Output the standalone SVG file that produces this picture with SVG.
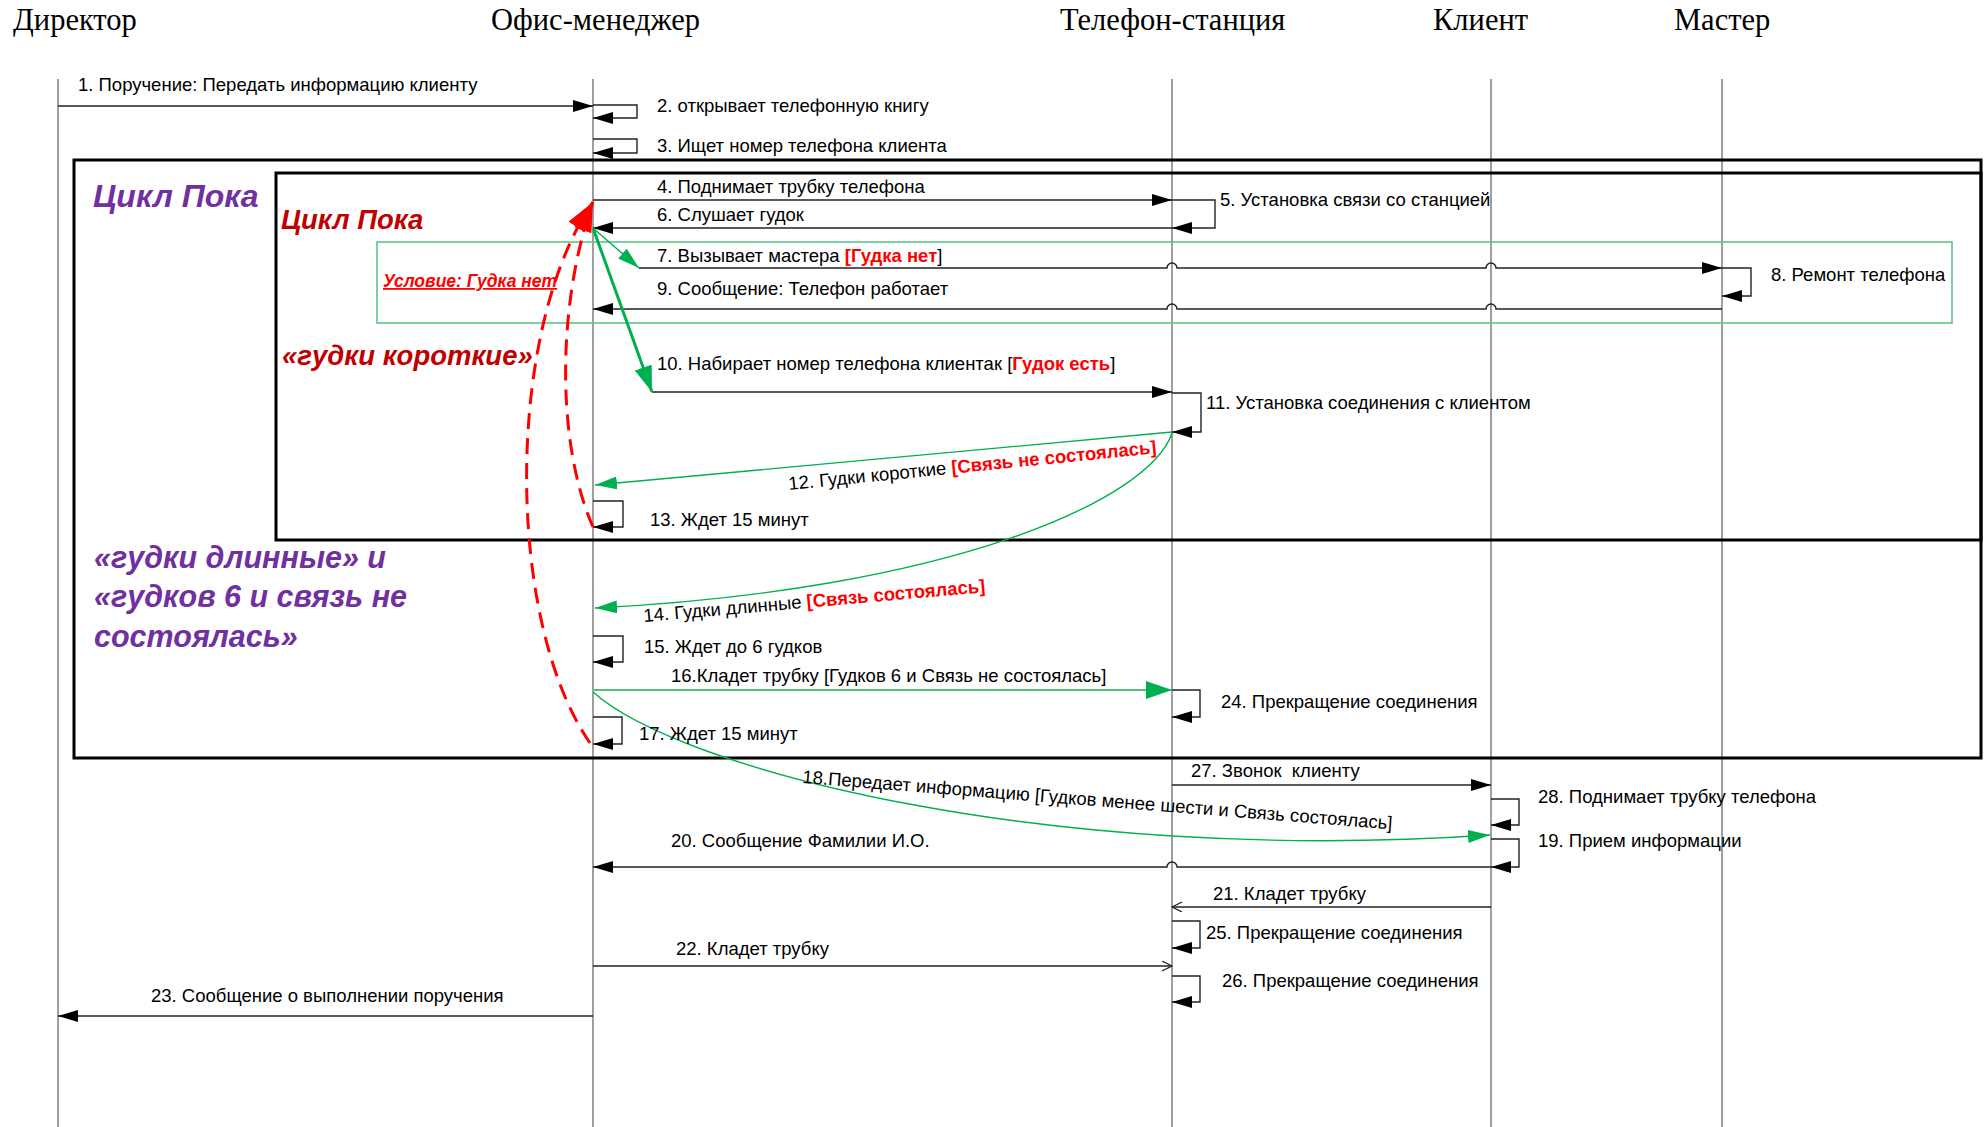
<svg xmlns="http://www.w3.org/2000/svg" width="1988" height="1127" viewBox="0 0 1988 1127">
  <style>
    .ll { stroke: #6b6b6b; stroke-width: 1.3; fill: none; }
    .frame { stroke: #000; stroke-width: 3; fill: none; }
    .cond { stroke: #5cc48a; stroke-width: 1.6; fill: none; }
    .msg { stroke: #222; stroke-width: 1.4; fill: none; }
    .g { stroke: #00b050; stroke-width: 1.4; fill: none; }
    .gk { stroke: #00b050; stroke-width: 3; fill: none; }
    .g16 { stroke: #52c27e; stroke-width: 2.2; fill: none; }
    .rd { stroke: #ff0000; stroke-width: 3; fill: none; stroke-dasharray: 16 9; }
    .hdr { font-family: "Liberation Serif", "Times New Roman", serif; font-size: 30.5px; fill: #000; }
    .lbl { font-family: "Liberation Sans", Arial, sans-serif; font-size: 18.5px; fill: #000; }
    .rb { fill: #ff0000; font-weight: bold; }
    .big { font-family: "Liberation Sans", Arial, sans-serif; font-weight: bold; font-style: italic; }
    .purple { fill: #7030a0; font-size: 32px; }
    .purple2 { fill: #7030a0; font-size: 30.5px; }
    .dred { fill: #c00000; font-size: 27.5px; }
  </style>
  <defs>
    <marker id="ah" markerUnits="userSpaceOnUse" markerWidth="22" markerHeight="14" refX="20" refY="6" orient="auto" viewBox="0 0 22 14">
      <path d="M0,0 L20,6 L0,12 z" fill="#000"/>
    </marker>
    <marker id="ao" markerUnits="userSpaceOnUse" markerWidth="12" markerHeight="12" refX="10" refY="5" orient="auto" viewBox="0 0 12 12">
      <path d="M0,0 L10,5 L0,10" fill="none" stroke="#222" stroke-width="1.2"/>
    </marker>
    <marker id="ag" markerUnits="userSpaceOnUse" markerWidth="24" markerHeight="14" refX="22" refY="6.5" orient="auto" viewBox="0 0 24 14">
      <path d="M0,0 L22,6.5 L0,13 z" fill="#00b050"/>
    </marker>
    <marker id="agL" markerUnits="userSpaceOnUse" markerWidth="28" markerHeight="20" refX="26" refY="9" orient="auto" viewBox="0 0 28 20">
      <path d="M0,0 L26,9 L0,18 z" fill="#00b050"/>
    </marker>
    <marker id="ar" markerUnits="userSpaceOnUse" markerWidth="32" markerHeight="20" refX="30" refY="9" orient="auto" viewBox="0 0 32 20">
      <path d="M0,0 L30,9 L0,18 z" fill="#ff0000"/>
    </marker>
  </defs>

  <rect width="1988" height="1127" fill="#fff"/>

  <!-- participants: header + lifeline -->
  <g id="director">
    <text class="hdr" x="13" y="30">Директор</text>
    <line class="ll" x1="58" y1="79" x2="58" y2="1127"/>
  </g>
  <g id="office-manager">
    <text class="hdr" x="491" y="30">Офис-менеджер</text>
    <line class="ll" x1="593" y1="79" x2="593" y2="1127"/>
  </g>
  <g id="phone-station">
    <text class="hdr" x="1060" y="30">Телефон-станция</text>
    <line class="ll" x1="1172" y1="79" x2="1172" y2="1127"/>
  </g>
  <g id="client">
    <text class="hdr" x="1433" y="30">Клиент</text>
    <line class="ll" x1="1491" y1="79" x2="1491" y2="1127"/>
  </g>
  <g id="master">
    <text class="hdr" x="1674" y="30">Мастер</text>
    <line class="ll" x1="1722" y1="79" x2="1722" y2="1127"/>
  </g>

  <!-- loop frames and condition box -->
  <g id="loop-outer">
    <rect class="frame" x="74" y="160" width="1907" height="598"/>
    <text class="big purple" x="93" y="207">Цикл Пока</text>
    <text class="big purple2" x="94" y="568">«гудки длинные» и</text>
    <text class="big purple2" x="94" y="607">«гудков 6 и связь не</text>
    <text class="big purple2" x="94" y="647">состоялась»</text>
  </g>
  <g id="loop-inner">
    <rect class="frame" x="276" y="173" width="1705" height="367"/>
    <text class="big dred" x="281" y="229">Цикл Пока</text>
    <text class="big dred" x="282" y="365">«гудки короткие»</text>
  </g>
  <g id="condition">
    <rect class="cond" x="377" y="242" width="1575" height="81"/>
    <text class="big" x="383" y="287" font-size="17.5" fill="#ff0000" text-decoration="underline">Условие: Гудка нет</text>
  </g>

  <!-- messages -->
  <g id="connectors">
    <path class="msg" d="M58,106 H593" marker-end="url(#ah)"/>
    <path class="msg" d="M593,105 H637 V118 H593" marker-end="url(#ah)"/>
    <path class="msg" d="M593,139 H637 V153 H593" marker-end="url(#ah)"/>
    <path class="msg" d="M593,200 H1172" marker-end="url(#ah)"/>
    <path class="msg" d="M1172,200 H1215 V228 H1172" marker-end="url(#ah)"/>
    <path class="msg" d="M1172,228 H593" marker-end="url(#ah)"/>
    <path class="msg" d="M639,268 H1167 A5,5 0 0 1 1177,268 H1486 A5,5 0 0 1 1496,268 H1722" marker-end="url(#ah)"/>
    <path class="msg" d="M1722,268 H1751 V296 H1722" marker-end="url(#ah)"/>
    <path class="msg" d="M1722,309 H1496 A5,5 0 0 0 1486,309 H1177 A5,5 0 0 0 1167,309 H593" marker-end="url(#ah)"/>
    <path class="msg" d="M652,392 H1172" marker-end="url(#ah)"/>
    <path class="msg" d="M1172,393 H1201 V432 H1172" marker-end="url(#ah)"/>
    <path class="msg" d="M593,501 H623 V527 H593" marker-end="url(#ah)"/>
    <path class="msg" d="M593,636 H623 V662 H593" marker-end="url(#ah)"/>
    <path class="msg" d="M593,717 H622 V744 H593" marker-end="url(#ah)"/>
    <path class="msg" d="M1172,690 H1200 V717 H1172" marker-end="url(#ah)"/>
    <path class="msg" d="M1172,785 H1491" marker-end="url(#ah)"/>
    <path class="msg" d="M1491,799 H1519 V825 H1491" marker-end="url(#ah)"/>
    <path class="msg" d="M1491,839 H1519 V867 H1491" marker-end="url(#ah)"/>
    <path class="msg" d="M1491,867 H1177 A5,5 0 0 0 1167,867 H593" marker-end="url(#ah)"/>
    <path class="msg" d="M1491,907 H1172" marker-end="url(#ao)"/>
    <path class="msg" d="M1172,921 H1200 V948 H1172" marker-end="url(#ah)"/>
    <path class="msg" d="M593,966 H1172" marker-end="url(#ao)"/>
    <path class="msg" d="M1172,976 H1200 V1002 H1172" marker-end="url(#ah)"/>
    <path class="msg" d="M593,1016 H58" marker-end="url(#ah)"/>

    <!-- branch arrows -->
    <path class="g" d="M593,228 L639,268" marker-end="url(#ag)"/>
    <path class="gk" d="M593,228 L652,392" marker-end="url(#agL)"/>
    <path class="g" d="M1172,432 L595,485" marker-end="url(#ag)"/>
    <path class="g" d="M1172,433 C1150,500 950,590 595,608" marker-end="url(#ag)"/>
    <path class="g16" d="M593,690 H1172" marker-end="url(#agL)"/>
    <path class="g" d="M593,692 C680,770 1050,865 1490,835" marker-end="url(#ag)"/>

    <!-- loop-back arrows -->
    <path class="rd" d="M593,527 C555,440 558,300 593,202" marker-end="url(#ar)"/>
    <path class="rd" d="M590,743 C505,620 505,330 593,202" marker-end="url(#ar)"/>
  </g>

  <!-- message labels -->
  <g id="labels" class="lbl">
    <text x="78" y="91">1. Поручение: Передать информацию клиенту</text>
    <text x="657" y="112">2. открывает телефонную книгу</text>
    <text x="657" y="152">3. Ищет номер телефона клиента</text>
    <text x="657" y="193">4. Поднимает трубку телефона</text>
    <text x="1220" y="206">5. Установка связи со станцией</text>
    <text x="657" y="221">6. Слушает гудок</text>
    <text x="657" y="262">7. Вызывает мастера <tspan class="rb">[Гудка нет</tspan>]</text>
    <text x="1771" y="281">8. Ремонт телефона</text>
    <text x="657" y="295">9. Сообщение: Телефон работает</text>
    <text x="657" y="370">10. Набирает номер телефона клиентак [<tspan class="rb">Гудок есть</tspan>]</text>
    <text x="1206" y="409">11. Установка соединения с клиентом</text>
    <text x="789" y="490" transform="rotate(-5.7 789 490)">12. Гудки короткие <tspan class="rb">[Связь не состоялась]</tspan></text>
    <text x="650" y="526">13. Ждет 15 минут</text>
    <text x="644" y="622" transform="rotate(-5 644 622)">14. Гудки длинные <tspan class="rb">[Связь состоялась]</tspan></text>
    <text x="644" y="653">15. Ждет до 6 гудков</text>
    <text x="671" y="682">16.Кладет трубку [Гудков 6 и Связь не состоялась]</text>
    <text x="639" y="740">17. Ждет 15 минут</text>
    <text x="802" y="783" transform="rotate(4.5 802 783)">18.Передает информацию [Гудков менее шести и Связь состоялась]</text>
    <text x="1538" y="847">19. Прием информации</text>
    <text x="671" y="847">20. Сообщение Фамилии И.О.</text>
    <text x="1213" y="900">21. Кладет трубку</text>
    <text x="676" y="955">22. Кладет трубку</text>
    <text x="151" y="1002">23. Сообщение о выполнении поручения</text>
    <text x="1221" y="708">24. Прекращение соединения</text>
    <text x="1206" y="939">25. Прекращение соединения</text>
    <text x="1222" y="987">26. Прекращение соединения</text>
    <text x="1191" y="777" xml:space="preserve">27. Звонок  клиенту</text>
    <text x="1538" y="803">28. Поднимает трубку телефона</text>
  </g>
</svg>
